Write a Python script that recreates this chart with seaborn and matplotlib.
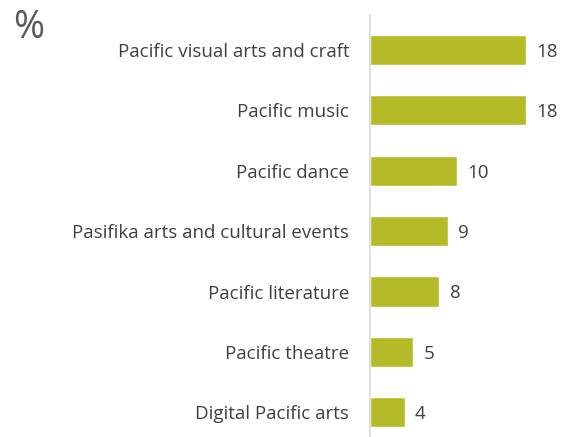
import matplotlib.pyplot as plt
import pandas as pd
import seaborn as sns

categories = [
    "Pacific visual arts and craft",
    "Pacific music",
    "Pacific dance",
    "Pasifika arts and cultural events",
    "Pacific literature",
    "Pacific theatre",
    "Digital Pacific arts",
]
values = [18, 18, 10, 9, 8, 5, 4]

bar_color = "#b5bb26"
text_color = "#404040"

sns.set_style("white")
plt.rcParams["font.family"] = ["Open Sans", "DejaVu Sans"]

df = pd.DataFrame({"category": categories, "value": values})

fig = plt.figure(figsize=(5.62, 4.37), dpi=100)
ax = fig.add_axes([370 / 562, 0.0, 182 / 562, 1 - 15 / 437])

sns.barplot(data=df, x="value", y="category", orient="h", color=bar_color,
            width=0.5, saturation=1, ax=ax)

ax.set_xlim(0, 21)
ax.set_ylim(6.41, -0.58)
ax.set_xlabel("")
ax.set_ylabel("")
ax.set_xticks([])
ax.tick_params(axis="y", length=0, pad=15, labelsize=13.5, labelcolor=text_color)

for side in ["top", "right", "bottom"]:
    ax.spines[side].set_visible(False)
ax.spines["left"].set_color("#d9d9d9")
ax.spines["left"].set_linewidth(1.2)

# value labels next to the bars
for bar, v in zip(ax.patches, values):
    ax.text(bar.get_width() + 1.2, bar.get_y() + bar.get_height() / 2 + 0.03, str(v),
            va="center", ha="left", fontsize=13.5, color=text_color)

fig.text(13 / 562, 1 - 28 / 437, "%", fontsize=27, color="#595959",
         va="center", ha="left")

fig.savefig("out.png", dpi=100)
